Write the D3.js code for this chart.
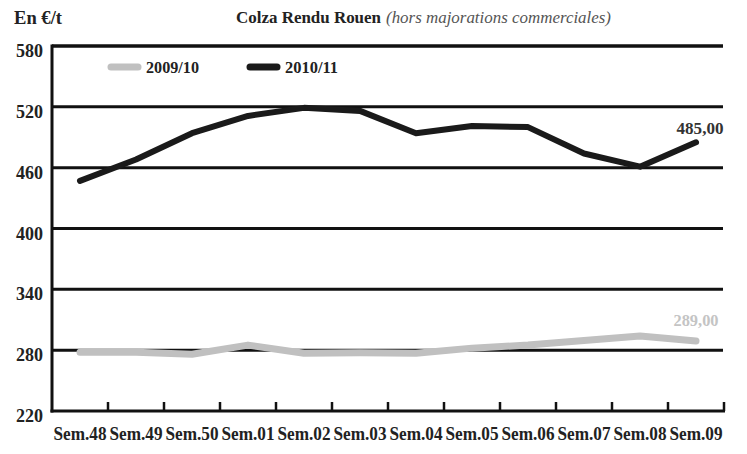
<!DOCTYPE html>
<html><head><meta charset="utf-8">
<script src="https://cdn.jsdelivr.net/npm/d3@7"></script>
<style>
body{margin:0;background:#fff;}
svg{display:block;font-family:"Liberation Serif","Times New Roman",serif;}
</style></head>
<body><svg id="c" width="747" height="454"></svg>
<script>
const categories = ["Sem.48","Sem.49","Sem.50","Sem.01","Sem.02","Sem.03","Sem.04","Sem.05","Sem.06","Sem.07","Sem.08","Sem.09"];
const series2009 = [278,278,276,285,277,277.5,277,282,285,289.5,294,289];
const series2010 = [447,468,494,511,519,516,494,501,500,474,461,485];
const yTicks = [220,280,340,400,460,520,580];
const seriesNames = ["2009/10","2010/11"];
const endLabels = ["289,00","485,00"];

(function(){
const svg = d3.select("#c");
const pl = 52, pr = 724, pt = 46, pb = 411;
const x = d3.scaleBand().domain(categories).range([pl, pr]);
const y = d3.scaleLinear().domain([220,580]).range([pb, pt]);

// gridlines
svg.append("g").selectAll("line").data(yTicks.filter(d=>d>220)).join("line")
  .attr("x1", pl).attr("x2", pr-1).attr("y1", d=>y(d)).attr("y2", d=>y(d))
  .attr("stroke","#111").attr("stroke-width",d=>d===580?3.5:3);

// y axis labels
svg.append("g").selectAll("text").data(yTicks).join("text")
  .attr("x", 43).attr("y", d=>y(d)+11).attr("text-anchor","end")
  .attr("font-size",18).attr("font-weight","bold").attr("fill","#222")
  .attr("textLength",27).attr("lengthAdjust","spacingAndGlyphs").text(d=>d);

// left axis
svg.append("line").attr("x1",pl).attr("x2",pl).attr("y1",pt-1.5).attr("y2",pb+1.5)
  .attr("stroke","#111").attr("stroke-width",3);
// bottom axis
svg.append("line").attr("x1",pl-1.5).attr("x2",pr+1).attr("y1",pb).attr("y2",pb)
  .attr("stroke","#111").attr("stroke-width",3);
// ticks
const tickPos = categories.map(c=>x(c)+x.bandwidth());
svg.append("g").selectAll("line").data(tickPos).join("line")
  .attr("x1",d=>d).attr("x2",d=>d).attr("y1",pb).attr("y2",pb-9)
  .attr("stroke","#111").attr("stroke-width",2.5);

// x labels
svg.append("g").selectAll("text").data(categories).join("text")
  .attr("x", d=>x(d)+x.bandwidth()/2).attr("y", 440).attr("text-anchor","middle")
  .attr("font-size",18).attr("font-weight","bold").attr("fill","#222")
  .attr("textLength",53).attr("lengthAdjust","spacingAndGlyphs").text(d=>d);

const line = d3.line().x((d,i)=>x(categories[i])+x.bandwidth()/2).y(d=>y(d));

svg.append("path").datum(series2009).attr("d",line).attr("fill","none")
  .attr("stroke","#c0c0c0").attr("stroke-width",7).attr("stroke-linejoin","round").attr("stroke-linecap","round");
svg.append("path").datum(series2010).attr("d",line).attr("fill","none")
  .attr("stroke","#1a1a1a").attr("stroke-width",6).attr("stroke-linejoin","round").attr("stroke-linecap","round");

// end labels
const lastX = x(categories[11])+x.bandwidth()/2;
svg.append("text").attr("x",lastX).attr("y",y(series2009[11])-15).attr("text-anchor","middle")
  .attr("font-size",17).attr("font-weight","bold").attr("fill","#c4c4c4")
  .attr("textLength",45).attr("lengthAdjust","spacingAndGlyphs").text(endLabels[0]);
svg.append("text").attr("x",lastX+4).attr("y",y(series2010[11])-8).attr("text-anchor","middle")
  .attr("font-size",17).attr("font-weight","bold").attr("fill","#333")
  .attr("textLength",47).attr("lengthAdjust","spacingAndGlyphs").text(endLabels[1]);

// legend
const leg = [{x:108, color:"#c0c0c0", name:seriesNames[0]},{x:247,color:"#1a1a1a",name:seriesNames[1]}];
leg.forEach(l=>{
  svg.append("line").attr("x1",l.x+3).attr("x2",l.x+30).attr("y1",67).attr("y2",67)
    .attr("stroke",l.color).attr("stroke-width",7).attr("stroke-linecap","round");
  svg.append("text").attr("x",l.x+38).attr("y",73).attr("font-size",17).attr("font-weight","bold")
    .attr("fill","#222").attr("textLength",53).attr("lengthAdjust","spacingAndGlyphs").text(l.name);
});

// titles
svg.append("text").attr("x",14).attr("y",24).attr("font-size",18).attr("font-weight","bold").attr("fill","#222")
  .attr("textLength",48).attr("lengthAdjust","spacingAndGlyphs").text("En €/t");
svg.append("text").attr("x",236).attr("y",23).attr("font-size",17).attr("font-weight","bold").attr("fill","#222")
  .attr("textLength",145).attr("lengthAdjust","spacingAndGlyphs").text("Colza Rendu Rouen");
svg.append("text").attr("x",386).attr("y",23).attr("font-size",17).attr("font-style","italic").attr("fill","#555")
  .attr("textLength",225).attr("lengthAdjust","spacingAndGlyphs").text("(hors majorations commerciales)");
})();
</script></body></html>
